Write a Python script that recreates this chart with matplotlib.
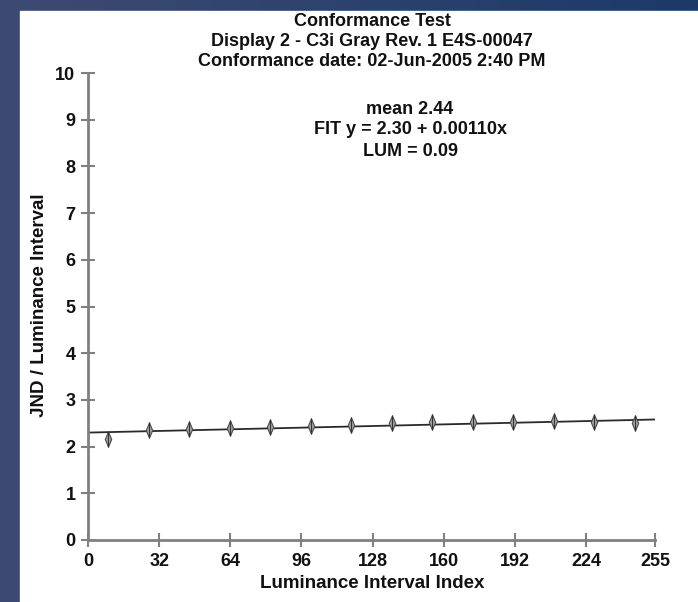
#!/usr/bin/env python
# plot.py - conformance test chart (JND per luminance interval)
import numpy as np
import matplotlib
matplotlib.use("Agg")
from matplotlib import pyplot as plt
from matplotlib.path import Path
from matplotlib.colors import LinearSegmentedColormap

# measured points (centres of 14 luminance intervals)
index = [9.1, 27.3, 45.5, 63.8, 82.0, 100.2, 118.4, 136.6, 154.8, 173.0, 191.2, 209.5, 227.7, 245.9]
jnd = [2.16, 2.36, 2.37, 2.39, 2.43, 2.44, 2.46, 2.50, 2.52, 2.52, 2.52, 2.55, 2.52, 2.50]

# linear fit reported on the chart
fit_a = 2.30
fit_b = 0.00110
fit_x = [0, 255]

xticks = [0, 32, 64, 96, 128, 160, 192, 224, 255]
yticks = list(range(0, 11))

title_lines = ["Conformance Test",
               "Display 2 - C3i Gray Rev. 1 E4S-00047",
               "Conformance date: 02-Jun-2005 2:40 PM"]
info_lines = ["mean 2.44", "FIT y = 2.30 + 0.00110x", "LUM = 0.09"]

plt.rcParams['font.family'] = ['Liberation Sans', 'DejaVu Sans']
plt.rcParams['font.weight'] = 'bold'

fig = plt.figure(figsize=(6.98, 6.02), dpi=100)
W, H = 698.0, 602.0

# dark blue frame with a gentle gradient
bg = fig.add_axes([0, 0, 1, 1])
cmap = LinearSegmentedColormap.from_list("frame", ["#3e4a73", "#1b3a69"])
bg.imshow(np.linspace(0, 1, 256).reshape(1, -1), aspect='auto', cmap=cmap,
          extent=[0, 1, 0, 1])
bg.add_patch(plt.Rectangle((20 / W, 0), 1, 1 - 11 / H, color='white', zorder=2))
bg.set_xlim(0, 1)
bg.set_ylim(0, 1)
bg.axis('off')

ax = fig.add_axes([88 / W, 1 - 540 / H, (655 - 88) / W, (540 - 73) / H])
ax.patch.set_alpha(0)

# thin diamond marker
diamond = Path([(0, 1), (0.42, 0), (0, -1), (-0.42, 0), (0, 1)],
               [Path.MOVETO, Path.LINETO, Path.LINETO, Path.LINETO, Path.CLOSEPOLY])

fx = np.array(fit_x, dtype=float)
ax.plot(fx, fit_a + fit_b * fx, color='#2a2a2a', lw=1.3, zorder=2)
ax.plot(index, jnd, ls='none', marker=diamond, ms=11, mfc='#a4a4a4',
        mec='#4a4a4a', mew=0.8, zorder=3)
ax.plot(index, jnd, ls='none', marker='|', ms=12, mec='#333333', mew=0.8, zorder=4)

ax.set_xlim(0, 255)
ax.set_ylim(0, 10)
ax.set_xticks(xticks)
ax.set_yticks(yticks)
for side in ['top', 'right']:
    ax.spines[side].set_visible(False)
for side in ['left', 'bottom']:
    ax.spines[side].set_color('#808080')
    ax.spines[side].set_linewidth(2)
ax.tick_params(direction='inout', length=10, width=1.5, color='#808080',
               labelsize=13, labelcolor='#111111', pad=4)
for lab in ax.get_xticklabels() + ax.get_yticklabels():
    lab.set_fontweight('bold')

# titles and annotations
for i, t in enumerate(title_lines):
    fig.text(372 / W, 1 - (22 + 19.5 * i) / H, t, ha='center', va='center',
             fontsize=13, fontweight='bold', color='#111111')
for i, t in enumerate(info_lines):
    fig.text(410 / W, 1 - (109 + 21 * i) / H, t, ha='center', va='center',
             fontsize=13, fontweight='bold', color='#111111')

fig.text(372 / W, 1 - 583 / H, "Luminance Interval Index", ha='center', va='center',
         fontsize=13.5, fontweight='bold', color='#111111')
fig.text(40 / W, 1 - 305 / H, "JND / Luminance Interval", ha='center', va='center',
         rotation=90, fontsize=13.5, fontweight='bold', color='#111111')

plt.savefig("out.png", dpi=100)
